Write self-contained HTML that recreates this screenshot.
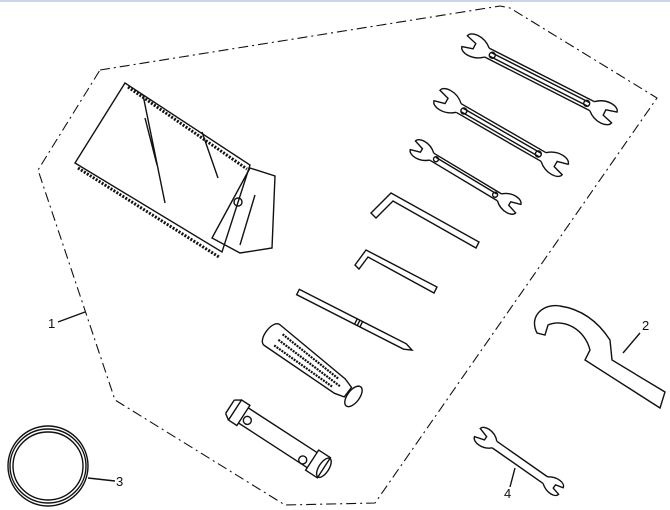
<!DOCTYPE html>
<html><head><style>
html,body{margin:0;padding:0;background:#fff;}
svg{display:block;}
text{font-family:"Liberation Sans",sans-serif;font-size:13px;fill:#111;}
</style></head><body>
<svg width="670" height="510" viewBox="0 0 670 510" xmlns="http://www.w3.org/2000/svg">
<rect x="0" y="0" width="670" height="2" fill="#c9d6e6"/>
<g fill="none" stroke="#111" stroke-width="1.4">
<!-- dashed boundary -->
<path d="M100,70 L500,6 L510,8 L657,98 L375,503 L285,505 L115,400 L38,170 Z" stroke-dasharray="10,4,2,4" stroke-width="1.1"/>
<!-- pouch -->
<path d="M125,83 L250,165 L222,252 L75,163 Z"/>
<path d="M128,87 L247,169 M78,168 L219,257" stroke-dasharray="2,1.5" stroke-width="3"/>
<path d="M143,95 L165,203 M145,118 L157,165 M202,132 L218,178"/>
<path d="M250,168 L275,176 L272,248 L240,253 L212,238 Z"/>
<circle cx="238" cy="202" r="4"/>
<path d="M255,195 L240,245"/>
<!-- wrenches -->
<g transform="translate(478,48) rotate(27)">
<path d="M10,-5 L128,-5 M10,5 L128,5 M14,-2 L124,-2 M14,2 L124,2"/>
<path d="M10,-5 C0,-14 -14,-12 -15,-6 L-4,-3 L-4,3 L-15,6 C-14,12 0,14 10,5"/>
<path d="M128,-5 C138,-14 152,-12 153,-6 L142,-3 L142,3 L153,6 C152,12 138,14 128,5"/>
<circle cx="16" cy="0" r="3"/><circle cx="122" cy="0" r="3"/>
</g>
<g transform="translate(450,103) rotate(30)">
<path d="M10,-5 L108,-5 M10,5 L108,5 M14,-2 L104,-2 M14,2 L104,2"/>
<path d="M10,-5 C0,-14 -14,-12 -15,-6 L-4,-3 L-4,3 L-15,6 C-14,12 0,14 10,5"/>
<path d="M108,-5 C118,-14 132,-12 133,-6 L122,-3 L122,3 L133,6 C132,12 118,14 108,5"/>
<circle cx="16" cy="0" r="3"/><circle cx="102" cy="0" r="3"/>
</g>
<g transform="translate(424,152) rotate(31)">
<path d="M9,-4 L88,-4 M9,4 L88,4 M13,-1.5 L84,-1.5"/>
<path d="M9,-4 C0,-12 -12,-10 -13,-5 L-3,-2 L-3,2 L-13,5 C-12,10 0,12 9,4"/>
<path d="M88,-4 C97,-12 109,-10 110,-5 L100,-2 L100,2 L110,5 C109,10 97,12 88,4"/>
<circle cx="14" cy="0" r="2.5"/><circle cx="83" cy="0" r="2.5"/>
</g>
<!-- hex keys -->
<path d="M371,213 L391,193 L479,242 L476,248 L393,201 L376,218 Z"/>
<path d="M355,265 L366,250 L437,287 L434,293 L368,257 L359,269 Z"/>
<!-- screwdriver -->
<g transform="translate(298,292) rotate(27)">
<path d="M0,-3 L120,-3 L128,0 L120,3 L0,3 Z"/>
<path d="M65,-3 L65,3 M68,-3 L68,3 M71,-3 L71,3"/>
</g>
<!-- handle -->
<g transform="translate(272,335) rotate(37)">
<path d="M0,-13 L85,-9 L95,-6 L95,6 L85,9 L0,13 C-9,13 -9,-13 0,-13 Z"/>
<path d="M8,-7 L80,-5 M8,0 L85,0 M8,7 L80,5" stroke-dasharray="2,1" stroke-width="2.2"/>
<ellipse cx="102" cy="0" rx="6" ry="12"/>
</g>
<!-- box wrench -->
<g transform="translate(235,410) rotate(33)">
<path d="M0,-12 L10,-12 L10,12 L0,12 Z M-6,-8 L0,-12 M-6,8 L0,12 M-6,-8 L-6,8"/>
<path d="M10,-9 L92,-9 M10,9 L92,9"/>
<path d="M92,-12 L106,-12 L106,12 L92,12 Z"/>
<circle cx="16" cy="2" r="4"/><circle cx="84" cy="5" r="4"/>
<ellipse cx="106" cy="0" rx="5" ry="11"/>
</g>
<!-- ring -->
<ellipse cx="48" cy="466" rx="40" ry="40"/>
<ellipse cx="48" cy="466" rx="38" ry="37"/>
<ellipse cx="48" cy="466" rx="35" ry="34"/>
<!-- hook wrench -->
<path d="M537,333 C528,315 545,303 560,306 C580,309 597,320 610,340 L612,360 L665,392 L660,408 L585,360 L590,350 C585,330 565,318 548,325 L545,335 Z"/>
<!-- small wrench -->
<g transform="translate(488,440) rotate(35)">
<path d="M8,-4 L70,-4 M8,4 L70,4"/>
<path d="M8,-4 C0,-12 -12,-10 -13,-5 L-3,-2 L-3,2 L-13,5 C-12,10 0,12 8,4"/>
<path d="M70,-4 C78,-10 88,-9 89,-4 L81,-2 L81,2 L89,4 C88,9 78,10 70,4"/>
</g>
<!-- leader lines -->
<path d="M58,322 L85,312 M623,353 L640,333 M88,478 L115,481 M515,468 L510,487"/>
</g>
<text x="48" y="328">1</text>
<text x="642" y="330">2</text>
<text x="116" y="486">3</text>
<text x="504" y="498">4</text>
</svg>
</body></html>
